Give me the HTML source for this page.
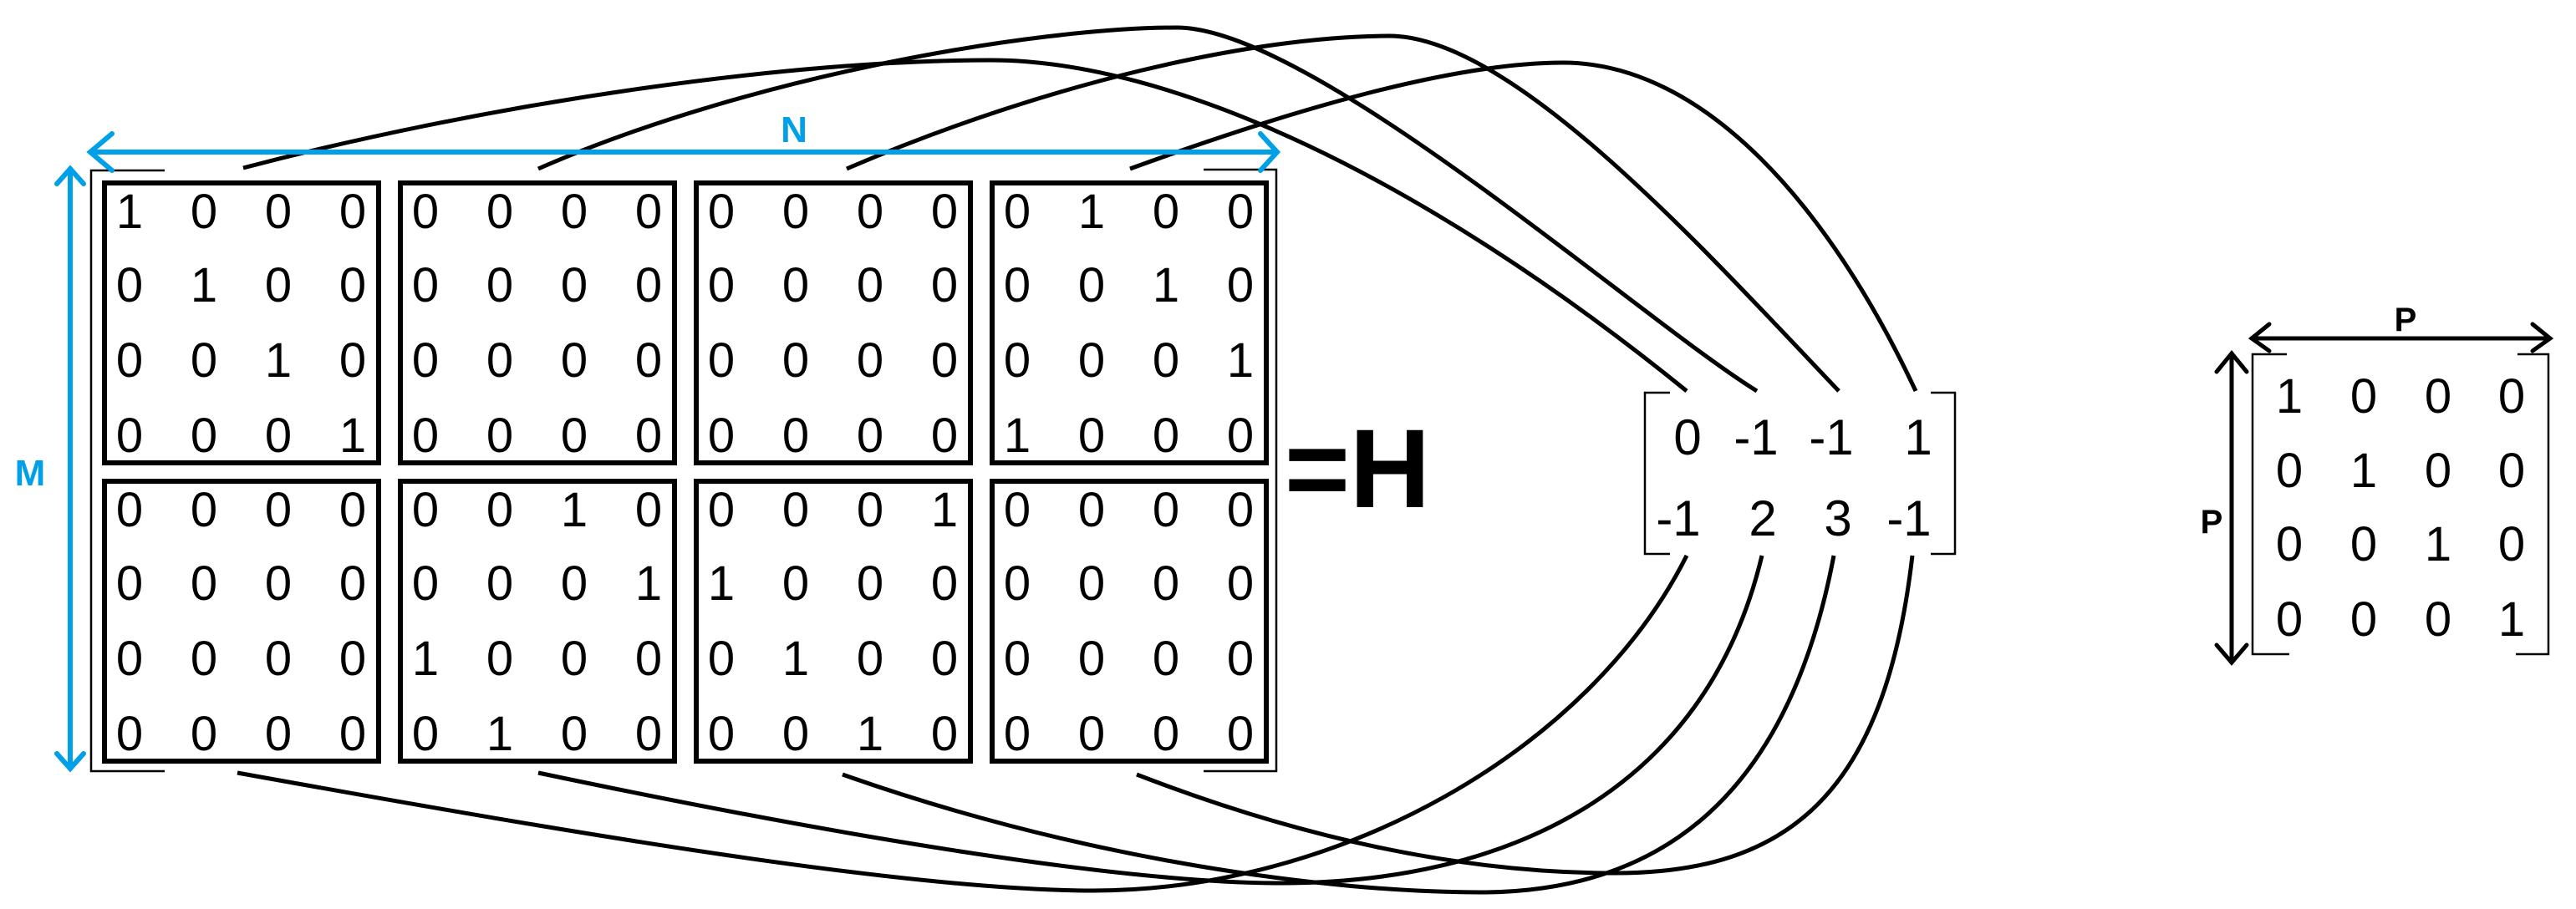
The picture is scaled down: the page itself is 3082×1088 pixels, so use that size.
<!DOCTYPE html>
<html><head><meta charset="utf-8"><style>
html,body{margin:0;padding:0;background:#fff;}
svg{display:block;}
text{font-family:"Liberation Sans",sans-serif;}
</style></head><body>
<svg width="3082" height="1088" viewBox="0 0 3082 1088" xmlns="http://www.w3.org/2000/svg">
<!-- curves top -->
<g fill="none" stroke="#000" stroke-width="5">
<path d="M291,201 C600,120 950,72 1185,72 C1400,72 1700,210 2018,468"/>
<path d="M644,202 C900,90 1240,33 1408,33 C1570,33 1960,380 2102,468"/>
<path d="M1013,202 C1250,100 1500,43 1662,43 C1810,43 2040,300 2200,468"/>
<path d="M1352,202 C1550,130 1740,75 1870,75 C2040,75 2190,250 2292,468"/>
<!-- bottom -->
<path d="M284,925 C700,1000 1090,1066 1308,1066 C1600,1066 1900,900 2018,665"/>
<path d="M644,925 C1000,1000 1340,1057 1532,1057 C1800,1057 2040,950 2108,665"/>
<path d="M1008,927 C1300,1030 1590,1068 1771,1068 C1990,1068 2140,950 2194,665"/>
<path d="M1360,927 C1600,1020 1790,1045 1932,1045 C2140,1045 2255,950 2288,665"/>
</g>
<!-- outer bracket -->
<g fill="none" stroke="#000" stroke-width="2.5">
<path d="M197,204 H109 V923 H197"/>
<path d="M1440,203 H1527 V923 H1440"/>
</g>
<!-- blocks -->
<g fill="none" stroke="#000" stroke-width="6">
<rect x="125" y="219" width="328" height="335"/>
<rect x="479" y="219" width="328" height="335"/>
<rect x="833" y="219" width="328" height="335"/>
<rect x="1187" y="219" width="328" height="335"/>
<rect x="125" y="576" width="328" height="335"/>
<rect x="479" y="576" width="328" height="335"/>
<rect x="833" y="576" width="328" height="335"/>
<rect x="1187" y="576" width="328" height="335"/>
</g>
<g font-size="58" text-anchor="middle" fill="#000">
<!-- block 1 -->
<g transform="translate(122,218)">
<text x="33" y="55">1</text><text x="122" y="55">0</text><text x="211" y="55">0</text><text x="300" y="55">0</text>
<text x="33" y="143">0</text><text x="122" y="143">1</text><text x="211" y="143">0</text><text x="300" y="143">0</text>
<text x="33" y="233">0</text><text x="122" y="233">0</text><text x="211" y="233">1</text><text x="300" y="233">0</text>
<text x="33" y="323">0</text><text x="122" y="323">0</text><text x="211" y="323">0</text><text x="300" y="323">1</text>
</g>
<g transform="translate(476,218)">
<text x="33" y="55">0</text><text x="122" y="55">0</text><text x="211" y="55">0</text><text x="300" y="55">0</text>
<text x="33" y="143">0</text><text x="122" y="143">0</text><text x="211" y="143">0</text><text x="300" y="143">0</text>
<text x="33" y="233">0</text><text x="122" y="233">0</text><text x="211" y="233">0</text><text x="300" y="233">0</text>
<text x="33" y="323">0</text><text x="122" y="323">0</text><text x="211" y="323">0</text><text x="300" y="323">0</text>
</g>
<g transform="translate(830,218)">
<text x="33" y="55">0</text><text x="122" y="55">0</text><text x="211" y="55">0</text><text x="300" y="55">0</text>
<text x="33" y="143">0</text><text x="122" y="143">0</text><text x="211" y="143">0</text><text x="300" y="143">0</text>
<text x="33" y="233">0</text><text x="122" y="233">0</text><text x="211" y="233">0</text><text x="300" y="233">0</text>
<text x="33" y="323">0</text><text x="122" y="323">0</text><text x="211" y="323">0</text><text x="300" y="323">0</text>
</g>
<g transform="translate(1184,218)">
<text x="33" y="55">0</text><text x="122" y="55">1</text><text x="211" y="55">0</text><text x="300" y="55">0</text>
<text x="33" y="143">0</text><text x="122" y="143">0</text><text x="211" y="143">1</text><text x="300" y="143">0</text>
<text x="33" y="233">0</text><text x="122" y="233">0</text><text x="211" y="233">0</text><text x="300" y="233">1</text>
<text x="33" y="323">1</text><text x="122" y="323">0</text><text x="211" y="323">0</text><text x="300" y="323">0</text>
</g>
<g transform="translate(122,575)">
<text x="33" y="55">0</text><text x="122" y="55">0</text><text x="211" y="55">0</text><text x="300" y="55">0</text>
<text x="33" y="143">0</text><text x="122" y="143">0</text><text x="211" y="143">0</text><text x="300" y="143">0</text>
<text x="33" y="233">0</text><text x="122" y="233">0</text><text x="211" y="233">0</text><text x="300" y="233">0</text>
<text x="33" y="323">0</text><text x="122" y="323">0</text><text x="211" y="323">0</text><text x="300" y="323">0</text>
</g>
<g transform="translate(476,575)">
<text x="33" y="55">0</text><text x="122" y="55">0</text><text x="211" y="55">1</text><text x="300" y="55">0</text>
<text x="33" y="143">0</text><text x="122" y="143">0</text><text x="211" y="143">0</text><text x="300" y="143">1</text>
<text x="33" y="233">1</text><text x="122" y="233">0</text><text x="211" y="233">0</text><text x="300" y="233">0</text>
<text x="33" y="323">0</text><text x="122" y="323">1</text><text x="211" y="323">0</text><text x="300" y="323">0</text>
</g>
<g transform="translate(830,575)">
<text x="33" y="55">0</text><text x="122" y="55">0</text><text x="211" y="55">0</text><text x="300" y="55">1</text>
<text x="33" y="143">1</text><text x="122" y="143">0</text><text x="211" y="143">0</text><text x="300" y="143">0</text>
<text x="33" y="233">0</text><text x="122" y="233">1</text><text x="211" y="233">0</text><text x="300" y="233">0</text>
<text x="33" y="323">0</text><text x="122" y="323">0</text><text x="211" y="323">1</text><text x="300" y="323">0</text>
</g>
<g transform="translate(1184,575)">
<text x="33" y="55">0</text><text x="122" y="55">0</text><text x="211" y="55">0</text><text x="300" y="55">0</text>
<text x="33" y="143">0</text><text x="122" y="143">0</text><text x="211" y="143">0</text><text x="300" y="143">0</text>
<text x="33" y="233">0</text><text x="122" y="233">0</text><text x="211" y="233">0</text><text x="300" y="233">0</text>
<text x="33" y="323">0</text><text x="122" y="323">0</text><text x="211" y="323">0</text><text x="300" y="323">0</text>
</g>
</g>
<!-- blue arrows -->
<g stroke="#00a0e9" stroke-width="6" fill="none" stroke-linecap="round">
<path d="M108,182 H1526"/>
<path d="M134,160 L108,182 L134,204"/>
<path d="M1508,160 L1528,182 L1508,204"/>
<path d="M84,202 V920"/>
<path d="M68,220 L84,202 L100,220"/>
<path d="M68,902 L84,920 L100,902"/>
</g>
<text x="950" y="170" font-size="44" font-weight="bold" fill="#00a0e9" text-anchor="middle">N</text>
<text x="36" y="581" font-size="44" font-weight="bold" fill="#00a0e9" text-anchor="middle">M</text>
<!-- =H -->
<text x="1576" y="607" font-size="134" font-weight="bold" text-anchor="middle">=</text>
<text x="1663" y="607" font-size="134" font-weight="bold" text-anchor="middle">H</text>
<!-- base matrix -->
<g fill="none" stroke="#000" stroke-width="2.5">
<path d="M1998,470 H1968 V663 H1998"/>
<path d="M2310,470 H2339 V663 H2310"/>
</g>
<g font-size="60" text-anchor="middle">
<text x="2019" y="544">0</text><text x="2101" y="544">-1</text><text x="2191" y="544">-1</text><text x="2295" y="544">1</text>
<text x="2008" y="641">-1</text><text x="2109" y="641">2</text><text x="2199" y="641">3</text><text x="2284" y="641">-1</text>
</g>
<!-- P matrix -->
<g fill="none" stroke="#000" stroke-width="2.5">
<path d="M2736,424 H2695 V783 H2739"/>
<path d="M3012,424 H3049 V783 H3010"/>
</g>
<g stroke="#000" stroke-width="5" fill="none" stroke-linecap="round">
<path d="M2694,405 H3050"/>
<path d="M2715,388 L2694,405 L2715,420"/>
<path d="M3030,388 L3051,405 L3030,420"/>
<path d="M2670,423 V792"/>
<path d="M2652,445 L2670,423 L2688,445"/>
<path d="M2652,772 L2670,793 L2688,772"/>
</g>
<text x="2878" y="396" font-size="40" font-weight="bold" text-anchor="middle">P</text>
<text x="2646" y="638" font-size="40" font-weight="bold" text-anchor="middle">P</text>
<g font-size="58" text-anchor="middle">
<text x="2739" y="494">1</text><text x="2828" y="494">0</text><text x="2917" y="494">0</text><text x="3005" y="494">0</text>
<text x="2739" y="583">0</text><text x="2828" y="583">1</text><text x="2917" y="583">0</text><text x="3005" y="583">0</text>
<text x="2739" y="671">0</text><text x="2828" y="671">0</text><text x="2917" y="671">1</text><text x="3005" y="671">0</text>
<text x="2739" y="761">0</text><text x="2828" y="761">0</text><text x="2917" y="761">0</text><text x="3005" y="761">1</text>
</g>
</svg>
</body></html>
